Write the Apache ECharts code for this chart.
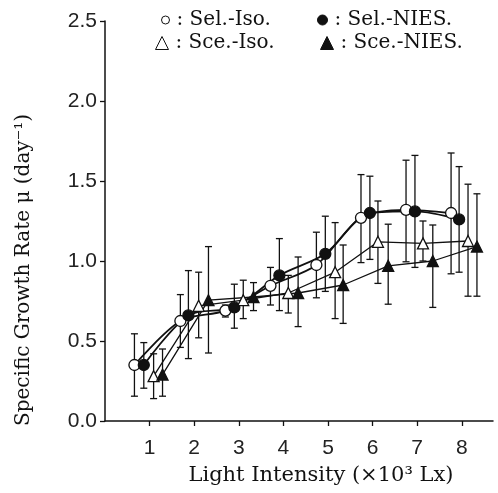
<!DOCTYPE html>
<html>
<head>
<meta charset="utf-8">
<script src="https://cdn.jsdelivr.net/npm/echarts@6/dist/echarts.min.js"></script>
<style>
html,body{margin:0;padding:0;background:#fff;}
#chart{width:498px;height:493px;}
</style>
</head>
<body>
<div id="chart"></div>
<script>
// ---- data ----
const xTicks = [1, 2, 3, 4, 5, 6, 7, 8];

const selIsoX   = [0.66, 1.69, 2.70, 3.71, 4.74, 5.74, 6.75, 7.76];
const selIsoY   = [0.35, 0.625, 0.69, 0.845, 0.975, 1.27, 1.32, 1.30];
const selIsoLo  = [0.155, 0.46, 0.65, 0.725, 0.77, 0.99, 0.995, 0.92];
const selIsoHi  = [0.545, 0.79, 0.725, 0.96, 1.18, 1.54, 1.63, 1.675];

const selNiesX  = [0.87, 1.87, 2.90, 3.91, 4.94, 5.94, 6.95, 7.94];
const selNiesY  = [0.35, 0.66, 0.71, 0.91, 1.045, 1.30, 1.31, 1.26];
const selNiesLo = [0.205, 0.39, 0.58, 0.69, 0.81, 1.01, 0.96, 0.93];
const selNiesHi = [0.49, 0.94, 0.855, 1.14, 1.28, 1.53, 1.66, 1.59];

const sceIsoX   = [1.09, 2.10, 3.10, 4.11, 5.16, 6.12, 7.13, 8.14];
const sceIsoY   = [0.28, 0.72, 0.755, 0.80, 0.93, 1.12, 1.11, 1.125];
const sceIsoLo  = [0.14, 0.52, 0.64, 0.675, 0.64, 0.86, 1.00, 0.78];
const sceIsoHi  = [0.42, 0.93, 0.88, 0.91, 1.24, 1.375, 1.25, 1.48];

const sceNiesX  = [1.29, 2.32, 3.33, 4.33, 5.34, 6.35, 7.35, 8.34];
const sceNiesY  = [0.29, 0.755, 0.775, 0.80, 0.85, 0.97, 1.00, 1.09];
const sceNiesLo = [0.155, 0.425, 0.69, 0.59, 0.61, 0.73, 0.71, 0.78];
const sceNiesHi = [0.45, 1.09, 0.865, 1.025, 1.10, 1.23, 1.225, 1.42];

const seriesNames = ['Sel.-Iso.', 'Sel.-NIES.', 'Sce.-Iso.', 'Sce.-NIES.'];

// ---- build ----
const SERIF = 'DejaVu Serif';
const SANS = 'Liberation Sans';
const zip = (xs, ys) => xs.map((x, i) => [x, ys[i]]);
const zip3 = (xs, lo, hi) => xs.map((x, i) => [x, lo[i], hi[i]]);

function errSeries(data) {
  return {
    type: 'custom',
    z: 1,
    silent: true,
    clip: false,
    encode: { x: 0, y: [1, 2] },
    data: data,
    renderItem: function (params, api) {
      const x = api.value(0);
      const top = api.coord([x, api.value(2)]);
      const bot = api.coord([x, api.value(1)]);
      const w = 3.5;
      const st = { stroke: '#111', lineWidth: 1.3 };
      return {
        type: 'group',
        children: [
          { type: 'line', shape: { x1: top[0], y1: top[1], x2: bot[0], y2: bot[1] }, style: st },
          { type: 'line', shape: { x1: top[0] - w, y1: top[1], x2: top[0] + w, y2: top[1] }, style: st },
          { type: 'line', shape: { x1: bot[0] - w, y1: bot[1], x2: bot[0] + w, y2: bot[1] }, style: st }
        ]
      };
    }
  };
}

function lineSeries(name, data, symbol, filled, size, width, smooth) {
  return {
    name: name,
    type: 'line',
    z: 3,
    data: data,
    smooth: smooth,
    symbol: symbol,
    symbolSize: size,
    showAllSymbol: true,
    lineStyle: { color: '#111', width: width },
    itemStyle: { color: filled ? '#111' : '#fff', borderColor: '#111', borderWidth: 1.3 },
    emphasis: { disabled: true }
  };
}

function legendAt(name, icon, filled, size, left, top) {
  return {
    left: left, top: top,
    itemWidth: size, itemHeight: size,
    itemGap: 0,
    selectedMode: false,
    formatter: ': {name}',
    textStyle: { fontFamily: SERIF, fontSize: 20, color: '#111', padding: [0, 0, 0, 2] },
    data: [{ name: name, icon: icon,
      itemStyle: { color: filled ? '#111' : '#fff', borderColor: '#111', borderWidth: 1 } }]
  };
}

const chart = echarts.init(document.getElementById('chart'), null, { renderer: 'canvas' });
chart.setOption({
  animation: false,
  backgroundColor: '#fff',
  grid: { left: 105, right: 5, top: 21, bottom: 72, containLabel: false },
  legend: [
    legendAt(seriesNames[0], 'circle', false, 8, 156, 5),
    legendAt(seriesNames[1], 'circle', true, 10, 312, 5),
    legendAt(seriesNames[2], 'triangle', false, 13, 150, 28),
    legendAt(seriesNames[3], 'triangle', true, 13, 315, 28)
  ],
  xAxis: {
    type: 'value',
    min: 0, max: 8.7,
    name: 'Light Intensity (×10³ Lx)',
    nameLocation: 'middle',
    nameGap: 44,
    nameTextStyle: { fontFamily: SERIF, fontSize: 21, color: '#111', padding: [0, 0, 0, 44] },
    axisLine: { lineStyle: { color: '#111', width: 1.5 } },
    axisTick: { length: 5, customValues: xTicks, lineStyle: { color: '#111', width: 1.3 } },
    axisLabel: { customValues: xTicks, margin: 17, fontFamily: SANS, fontSize: 21, color: '#222' },
    splitLine: { show: false }
  },
  yAxis: {
    type: 'value',
    min: 0, max: 2.5, interval: 0.5,
    axisLine: { show: true, lineStyle: { color: '#111', width: 1.5 } },
    axisTick: { show: true, length: 5, lineStyle: { color: '#111', width: 1.3 } },
    axisLabel: { margin: 8, fontFamily: SANS, fontSize: 21, color: '#222',
      formatter: v => v.toFixed(1) },
    splitLine: { show: false }
  },
  graphic: [{
    type: 'text',
    x: 24, y: 270,
    rotation: Math.PI / 2,
    style: { text: 'Specific Growth Rate μ (day⁻¹)', font: '20px "DejaVu Serif"', fill: '#111',
      textAlign: 'center', textVerticalAlign: 'middle' }
  }],
  series: [
    errSeries(zip3(selIsoX, selIsoLo, selIsoHi)),
    errSeries(zip3(selNiesX, selNiesLo, selNiesHi)),
    errSeries(zip3(sceIsoX, sceIsoLo, sceIsoHi)),
    errSeries(zip3(sceNiesX, sceNiesLo, sceNiesHi)),
    lineSeries(seriesNames[0], zip(selIsoX, selIsoY), 'circle', false, 11, 1.8, 0.3),
    lineSeries(seriesNames[1], zip(selNiesX, selNiesY), 'circle', true, 11, 1.8, 0.3),
    lineSeries(seriesNames[2], zip(sceIsoX, sceIsoY), 'triangle', false, 11, 1.3, false),
    lineSeries(seriesNames[3], zip(sceNiesX, sceNiesY), 'triangle', true, 11, 1.3, false)
  ]
});
</script>
</body>
</html>
